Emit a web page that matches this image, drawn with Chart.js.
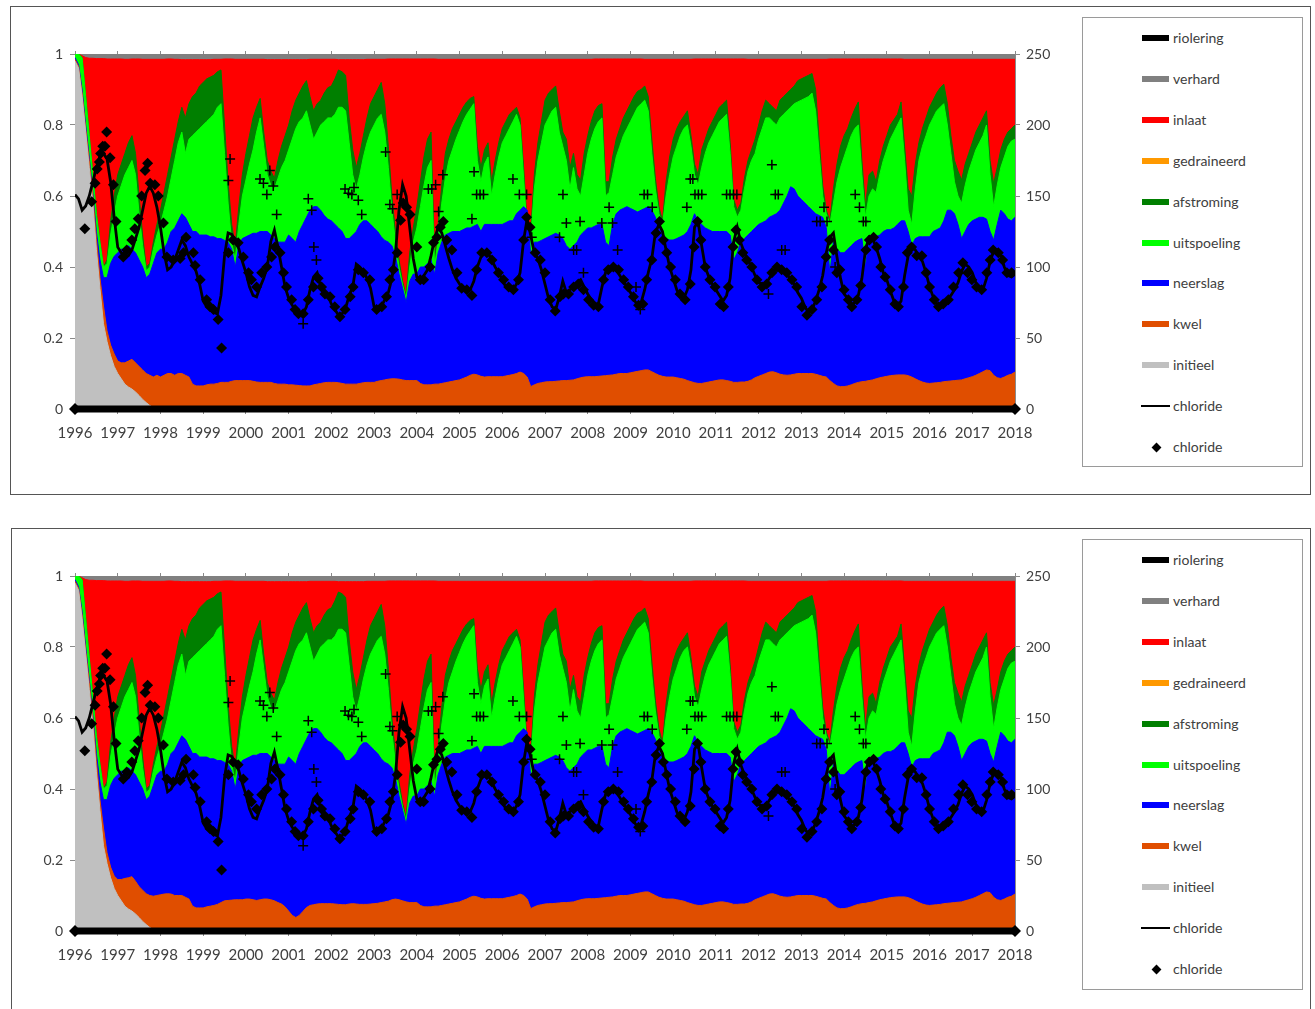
<!DOCTYPE html>
<html>
<head>
<meta charset="utf-8">
<script src="https://cdn.jsdelivr.net/npm/chart.js@4.4.1/dist/chart.umd.min.js"></script>
<style>
  html, body { margin:0; padding:0; background:#fff; }
  body { width:1315px; height:1009px; overflow:hidden; position:relative; font-family:Lato, "Open Sans", sans-serif; }
  .panel { position:absolute; border:1px solid #555; box-sizing:border-box; }
  .legend { position:absolute; border:1px solid #9a9a9a; box-sizing:border-box; background:#fff; }
  canvas { position:absolute; }
  .lg-sw { position:absolute; height:6px; width:27px; }
  .lg-tx { position:absolute; font-size:14px; color:#404040; line-height:16px; white-space:nowrap; }
</style>
</head>
<body>
<div class="panel" style="left:10px;top:6px;width:1301px;height:489px;"></div>
<div class="panel" style="left:11px;top:528px;width:1300px;height:520px;"></div>
<div class="legend" style="left:1082px;top:17px;width:221px;height:450px;"></div>
<div class="legend" style="left:1082px;top:539px;width:221px;height:451px;"></div>
<canvas id="c1" width="1060" height="486" style="left:11px;top:7px;"></canvas>
<canvas id="c2" width="1060" height="486" style="left:11px;top:529px;"></canvas>
<script>
// ---------- DATA (fractions; monthly, 1996.0 .. 2018.0) ----------
const topInitieel = [
0.98,0.96,0.88,0.78,0.68,0.58,0.45,0.34,0.24,0.19,0.15,0.12,
0.10,0.085,0.07,0.062,0.056,0.048,0.038,0.027,0.018,0.01,0.004,0,
0,0,0,0,0,0,0,0,0,0,0,0,
0,0,0,0,0,0,0,0,0,0,0,0,
0,0,0,0,0,0,0,0,0,0,0,0,
0,0,0,0,0,0,0,0,0,0,0,0,
0,0,0,0,0,0,0,0,0,0,0,0,
0,0,0,0,0,0,0,0,0,0,0,0,
0,0,0,0,0,0,0,0,0,0,0,0,
0,0,0,0,0,0,0,0,0,0,0,0,
0,0,0,0,0,0,0,0,0,0,0,0,
0,0,0,0,0,0,0,0,0,0,0,0,
0,0,0,0,0,0,0,0,0,0,0,0,
0,0,0,0,0,0,0,0,0,0,0,0,
0,0,0,0,0,0,0,0,0,0,0,0,
0,0,0,0,0,0,0,0,0,0,0,0,
0,0,0,0,0,0,0,0,0,0,0,0,
0,0,0,0,0,0,0,0,0,0,0,0,
0,0,0,0,0,0,0,0,0,0,0,0,
0,0,0,0,0,0,0,0,0,0,0,0,
0,0,0,0,0,0,0,0,0,0,0,0,
0,0,0,0,0,0,0,0,0,0,0,0,
0];

const topKwel = [
0.985,0.965,0.89,0.79,0.70,0.60,0.48,0.37,0.29,0.22,0.18,0.155,
0.135,0.13,0.13,0.135,0.14,0.13,0.12,0.11,0.10,0.095,0.09,0.095,
0.09,0.095,0.10,0.10,0.095,0.10,0.10,0.095,0.09,0.07,0.065,0.065,
0.065,0.068,0.07,0.07,0.072,0.075,0.075,0.075,0.078,0.08,0.08,0.08,
0.08,0.08,0.078,0.076,0.075,0.075,0.075,0.075,0.072,0.07,0.07,0.07,
0.068,0.068,0.067,0.066,0.065,0.065,0.065,0.068,0.07,0.072,0.074,0.075,
0.075,0.075,0.074,0.072,0.07,0.07,0.07,0.07,0.072,0.074,0.075,0.075,
0.075,0.078,0.08,0.082,0.084,0.085,0.085,0.084,0.082,0.08,0.08,0.08,
0.08,0.072,0.068,0.068,0.068,0.07,0.07,0.072,0.074,0.076,0.078,0.08,
0.082,0.086,0.09,0.095,0.098,0.096,0.092,0.09,0.091,0.091,0.091,0.091,
0.091,0.093,0.095,0.097,0.10,0.104,0.10,0.09,0.063,0.068,0.072,0.074,
0.076,0.077,0.077,0.078,0.079,0.08,0.08,0.081,0.082,0.085,0.088,0.09,
0.091,0.091,0.091,0.092,0.093,0.094,0.095,0.096,0.098,0.10,0.10,0.10,
0.102,0.104,0.106,0.108,0.11,0.11,0.105,0.10,0.095,0.092,0.09,0.09,
0.09,0.088,0.086,0.084,0.08,0.077,0.074,0.072,0.072,0.074,0.076,0.078,
0.08,0.082,0.082,0.08,0.078,0.075,0.075,0.076,0.076,0.078,0.082,0.088,
0.092,0.096,0.10,0.104,0.105,0.102,0.098,0.096,0.095,0.096,0.098,0.10,
0.10,0.10,0.10,0.10,0.098,0.095,0.092,0.09,0.08,0.072,0.065,0.063,
0.063,0.065,0.068,0.072,0.075,0.077,0.078,0.08,0.082,0.085,0.088,0.09,
0.092,0.094,0.095,0.096,0.096,0.096,0.094,0.09,0.085,0.08,0.076,0.073,
0.072,0.073,0.074,0.075,0.077,0.078,0.079,0.08,0.081,0.082,0.085,0.088,
0.091,0.095,0.10,0.105,0.11,0.108,0.095,0.088,0.086,0.09,0.095,0.098,
0.104];

// lower panel: kwel dips around 2001
const topKwel2 = [
0.985,0.965,0.89,0.79,0.70,0.60,0.48,0.37,0.29,0.22,0.18,0.155,
0.145,0.145,0.148,0.15,0.153,0.14,0.125,0.115,0.105,0.10,0.098,0.10,
0.102,0.104,0.105,0.104,0.10,0.10,0.10,0.095,0.09,0.07,0.065,0.065,
0.065,0.068,0.07,0.072,0.075,0.08,0.085,0.086,0.087,0.088,0.088,0.088,
0.09,0.09,0.088,0.086,0.088,0.09,0.09,0.088,0.085,0.08,0.076,0.068,
0.056,0.044,0.038,0.044,0.055,0.066,0.072,0.074,0.076,0.077,0.077,0.077,
0.077,0.076,0.075,0.074,0.074,0.076,0.077,0.076,0.075,0.075,0.075,0.076,
0.077,0.078,0.08,0.082,0.084,0.088,0.09,0.088,0.085,0.082,0.08,0.08,
0.08,0.072,0.068,0.068,0.068,0.07,0.07,0.072,0.074,0.076,0.078,0.08,
0.082,0.086,0.09,0.095,0.098,0.096,0.092,0.09,0.091,0.091,0.091,0.091,
0.091,0.093,0.095,0.097,0.10,0.104,0.10,0.09,0.063,0.068,0.072,0.074,
0.076,0.077,0.077,0.078,0.079,0.08,0.08,0.081,0.082,0.085,0.088,0.09,
0.091,0.091,0.091,0.092,0.093,0.094,0.095,0.096,0.098,0.10,0.10,0.10,
0.102,0.104,0.106,0.108,0.11,0.11,0.105,0.10,0.095,0.092,0.09,0.09,
0.09,0.088,0.086,0.084,0.08,0.077,0.074,0.072,0.072,0.074,0.076,0.078,
0.08,0.082,0.082,0.08,0.078,0.075,0.075,0.076,0.076,0.078,0.082,0.088,
0.092,0.096,0.10,0.104,0.105,0.102,0.098,0.096,0.095,0.096,0.098,0.10,
0.10,0.10,0.10,0.10,0.098,0.095,0.092,0.09,0.08,0.072,0.065,0.063,
0.063,0.065,0.068,0.072,0.075,0.077,0.078,0.08,0.082,0.085,0.088,0.09,
0.092,0.094,0.095,0.096,0.096,0.096,0.094,0.09,0.085,0.08,0.076,0.073,
0.072,0.073,0.074,0.075,0.077,0.078,0.079,0.08,0.081,0.082,0.085,0.088,
0.091,0.095,0.10,0.105,0.11,0.108,0.095,0.088,0.086,0.09,0.095,0.098,
0.104];

const topNeerslag = [
0.99,0.97,0.90,0.80,0.71,0.61,0.50,0.42,0.37,0.37,0.41,0.43,
0.44,0.45,0.45,0.46,0.45,0.44,0.42,0.40,0.37,0.38,0.41,0.44,
0.45,0.45,0.47,0.50,0.51,0.53,0.55,0.54,0.52,0.50,0.50,0.49,
0.49,0.49,0.485,0.485,0.48,0.48,0.475,0.47,0.45,0.40,0.46,0.48,
0.485,0.49,0.495,0.495,0.50,0.50,0.50,0.49,0.48,0.47,0.47,0.47,
0.49,0.48,0.47,0.50,0.52,0.54,0.56,0.57,0.57,0.56,0.545,0.535,
0.53,0.52,0.51,0.50,0.48,0.48,0.49,0.50,0.52,0.53,0.53,0.52,
0.51,0.50,0.485,0.475,0.47,0.46,0.43,0.38,0.34,0.30,0.36,0.38,
0.38,0.40,0.40,0.41,0.42,0.38,0.44,0.47,0.49,0.495,0.50,0.50,
0.50,0.505,0.51,0.51,0.515,0.52,0.50,0.52,0.52,0.52,0.52,0.52,
0.52,0.525,0.53,0.53,0.55,0.56,0.57,0.56,0.43,0.47,0.47,0.475,
0.48,0.485,0.49,0.495,0.49,0.48,0.46,0.45,0.46,0.47,0.49,0.50,
0.51,0.51,0.515,0.52,0.52,0.47,0.46,0.52,0.55,0.56,0.565,0.57,
0.565,0.56,0.555,0.56,0.565,0.57,0.56,0.54,0.51,0.49,0.48,0.476,
0.476,0.48,0.485,0.49,0.50,0.52,0.55,0.53,0.52,0.51,0.505,0.50,
0.50,0.50,0.50,0.50,0.49,0.42,0.44,0.47,0.48,0.49,0.50,0.51,
0.52,0.525,0.53,0.54,0.545,0.55,0.56,0.58,0.60,0.626,0.62,0.60,
0.59,0.58,0.57,0.56,0.55,0.545,0.54,0.51,0.38,0.47,0.45,0.44,
0.44,0.45,0.46,0.47,0.476,0.48,0.40,0.48,0.485,0.485,0.49,0.50,
0.505,0.505,0.51,0.52,0.53,0.53,0.50,0.46,0.48,0.485,0.485,0.485,
0.485,0.50,0.505,0.51,0.53,0.56,0.56,0.55,0.52,0.48,0.50,0.52,
0.53,0.535,0.54,0.54,0.535,0.50,0.476,0.52,0.56,0.55,0.535,0.53,
0.54];

const topUitspoeling = [
1.0,1.0,0.99,0.88,0.77,0.66,0.55,0.47,0.40,0.41,0.49,0.55,
0.60,0.63,0.66,0.68,0.70,0.66,0.55,0.46,0.39,0.40,0.45,0.49,
0.52,0.56,0.60,0.65,0.70,0.75,0.78,0.72,0.76,0.77,0.78,0.79,
0.80,0.81,0.82,0.83,0.85,0.86,0.72,0.58,0.47,0.42,0.52,0.60,
0.645,0.69,0.73,0.78,0.82,0.74,0.66,0.63,0.62,0.65,0.68,0.70,
0.73,0.76,0.79,0.81,0.82,0.84,0.80,0.76,0.78,0.80,0.81,0.82,
0.82,0.83,0.85,0.85,0.84,0.75,0.66,0.62,0.66,0.71,0.75,0.78,
0.80,0.82,0.83,0.78,0.68,0.56,0.47,0.40,0.35,0.31,0.40,0.47,
0.51,0.57,0.63,0.68,0.70,0.40,0.48,0.58,0.65,0.70,0.73,0.76,
0.785,0.81,0.83,0.845,0.86,0.70,0.64,0.69,0.71,0.60,0.66,0.71,
0.75,0.77,0.79,0.81,0.83,0.80,0.65,0.50,0.48,0.62,0.70,0.75,
0.80,0.82,0.84,0.85,0.78,0.74,0.70,0.62,0.68,0.62,0.60,0.66,
0.72,0.76,0.79,0.81,0.82,0.60,0.61,0.66,0.71,0.74,0.77,0.79,
0.81,0.83,0.85,0.86,0.87,0.84,0.72,0.62,0.55,0.52,0.60,0.66,
0.71,0.74,0.77,0.79,0.80,0.74,0.66,0.63,0.68,0.72,0.75,0.77,
0.79,0.81,0.82,0.83,0.72,0.57,0.54,0.56,0.62,0.67,0.70,0.72,
0.76,0.79,0.82,0.82,0.81,0.80,0.82,0.83,0.84,0.85,0.86,0.865,
0.87,0.875,0.88,0.89,0.84,0.72,0.60,0.55,0.52,0.58,0.64,0.68,
0.71,0.74,0.77,0.79,0.80,0.66,0.54,0.60,0.62,0.61,0.66,0.70,
0.73,0.76,0.78,0.80,0.82,0.70,0.56,0.52,0.62,0.70,0.74,0.77,
0.80,0.82,0.84,0.85,0.86,0.80,0.72,0.64,0.60,0.58,0.63,0.67,
0.70,0.73,0.75,0.77,0.80,0.66,0.57,0.63,0.68,0.71,0.74,0.755,
0.76];

const topAfstroming = [
1.0,1.0,0.99,0.88,0.77,0.66,0.55,0.47,0.40,0.42,0.53,0.60,
0.66,0.69,0.72,0.75,0.77,0.72,0.60,0.49,0.40,0.41,0.47,0.52,
0.56,0.61,0.66,0.71,0.76,0.81,0.85,0.82,0.86,0.88,0.89,0.91,
0.92,0.93,0.935,0.94,0.95,0.955,0.80,0.64,0.52,0.46,0.57,0.66,
0.72,0.77,0.82,0.85,0.875,0.78,0.70,0.67,0.65,0.70,0.74,0.77,
0.80,0.84,0.87,0.89,0.91,0.925,0.88,0.84,0.86,0.87,0.89,0.905,
0.91,0.93,0.955,0.95,0.94,0.82,0.73,0.68,0.72,0.77,0.82,0.86,
0.88,0.90,0.92,0.86,0.74,0.60,0.50,0.42,0.36,0.32,0.44,0.51,
0.57,0.64,0.71,0.76,0.78,0.42,0.52,0.63,0.72,0.76,0.79,0.81,
0.83,0.85,0.865,0.875,0.88,0.74,0.68,0.73,0.75,0.64,0.70,0.75,
0.79,0.81,0.83,0.84,0.85,0.82,0.68,0.52,0.50,0.66,0.75,0.81,
0.87,0.89,0.90,0.91,0.84,0.78,0.76,0.68,0.72,0.66,0.645,0.72,
0.77,0.81,0.84,0.855,0.86,0.64,0.64,0.71,0.76,0.79,0.82,0.84,
0.86,0.88,0.895,0.90,0.91,0.88,0.76,0.65,0.57,0.53,0.64,0.71,
0.76,0.79,0.81,0.825,0.84,0.77,0.69,0.66,0.73,0.76,0.79,0.81,
0.83,0.85,0.86,0.87,0.75,0.59,0.56,0.58,0.65,0.70,0.73,0.76,
0.80,0.84,0.87,0.86,0.85,0.84,0.87,0.88,0.89,0.90,0.91,0.925,
0.93,0.935,0.94,0.945,0.90,0.76,0.63,0.56,0.53,0.62,0.69,0.74,
0.77,0.79,0.82,0.845,0.865,0.70,0.57,0.66,0.67,0.64,0.70,0.74,
0.77,0.80,0.815,0.83,0.865,0.74,0.62,0.60,0.69,0.75,0.79,0.82,
0.85,0.87,0.89,0.905,0.915,0.86,0.77,0.70,0.67,0.645,0.69,0.72,
0.75,0.78,0.80,0.82,0.84,0.70,0.635,0.68,0.73,0.76,0.78,0.79,
0.80];

const topInlaat = [
1.0,1.0,0.995,0.99,0.988,0.988,0.987,0.987,0.987,0.986,0.986,0.986,
0.986,0.986,0.985,0.985,0.986,0.986,0.986,0.985,0.985,0.985,0.985,0.985,
0.985,0.985,0.986,0.986,0.985,0.985,0.984,0.984,0.984,0.984,0.984,0.984,
0.984,0.984,0.984,0.985,0.985,0.985,0.986,0.986,0.986,0.985,0.985,0.985,
0.985,0.985,0.985,0.985,0.985,0.985,0.984,0.984,0.984,0.984,0.984,0.984,
0.984,0.984,0.984,0.984,0.984,0.984,0.985,0.985,0.985,0.985,0.985,0.985,
0.985,0.985,0.984,0.984,0.984,0.984,0.984,0.984,0.984,0.984,0.985,0.985,
0.985,0.985,0.985,0.985,0.986,0.986,0.986,0.986,0.986,0.986,0.986,0.986,
0.986,0.986,0.986,0.986,0.986,0.986,0.985,0.985,0.985,0.985,0.985,0.985,
0.985,0.985,0.985,0.985,0.985,0.985,0.985,0.985,0.985,0.985,0.985,0.985,
0.985,0.985,0.985,0.985,0.985,0.985,0.985,0.985,0.985,0.985,0.985,0.985,
0.985,0.985,0.985,0.985,0.985,0.985,0.985,0.985,0.985,0.985,0.985,0.985,
0.985,0.985,0.986,0.986,0.986,0.986,0.986,0.986,0.986,0.986,0.986,0.986,
0.986,0.986,0.986,0.986,0.985,0.985,0.985,0.985,0.985,0.985,0.985,0.985,
0.985,0.985,0.985,0.985,0.985,0.985,0.986,0.986,0.986,0.986,0.986,0.986,
0.986,0.986,0.986,0.986,0.986,0.986,0.986,0.986,0.986,0.985,0.985,0.985,
0.985,0.985,0.985,0.985,0.985,0.985,0.985,0.985,0.985,0.985,0.985,0.985,
0.985,0.985,0.985,0.985,0.985,0.985,0.985,0.985,0.986,0.986,0.986,0.986,
0.986,0.986,0.986,0.986,0.986,0.986,0.986,0.986,0.986,0.986,0.986,0.986,
0.986,0.986,0.986,0.986,0.986,0.985,0.985,0.985,0.985,0.985,0.985,0.985,
0.985,0.985,0.985,0.985,0.985,0.985,0.985,0.985,0.985,0.985,0.985,0.985,
0.985,0.985,0.985,0.985,0.985,0.985,0.985,0.985,0.985,0.985,0.985,0.985,
0.985];

// verhard fills up to the total (fraction 1); riolering and gedraineerd are 0
const totalYears = [1996, 2018];
const totalFraction = [1, 1];

// chloride (mg/l, right axis) — modelled line, monthly
const chlorideLine = [
151,148,140,143,150,160,170,178,180,176,160,135,
114,110,108,108,112,120,128,140,152,157,152,142,
128,110,98,100,105,112,119,115,107,102,97,88,
76,72,70,68,67,80,108,124,123,118,113,104,
96,86,80,79,86,92,100,118,126,114,100,86,
78,73,70,68,67,72,84,93,96,86,83,80,
74,70,66,67,71,80,86,102,100,97,92,85,
72,70,72,77,82,92,110,140,158,150,128,106,
93,91,94,98,108,120,128,124,115,106,98,92,
88,85,84,84,90,100,107,111,110,105,100,96,
91,86,84,84,88,96,119,134,122,110,106,98,
88,78,72,70,79,90,82,84,86,89,91,86,
81,77,74,74,86,96,100,100,98,94,90,86,
82,77,73,75,84,96,106,124,130,125,112,100,
92,84,79,78,84,98,128,132,115,100,93,88,
84,80,76,80,92,118,128,117,110,105,100,94,
89,88,88,92,96,100,100,98,95,91,88,82,
78,72,68,70,76,84,94,110,121,124,107,92,
81,78,73,75,80,92,112,121,120,114,106,96,
91,83,76,72,76,94,108,114,112,107,104,96,
86,79,74,72,73,77,80,84,89,97,102,100,
96,89,85,84,92,104,111,112,108,100,94,93,
95];

// chloride measurements (diamonds)
const diamondYear = [
1996.23,1996.39,1996.47,1996.52,1996.57,1996.60,1996.65,1996.70,1996.74,1996.82,1996.90,1996.96,
1997.13,1997.21,1997.33,1997.40,1997.48,1997.56,1997.64,1997.70,1997.76,1997.87,1997.95,
1998.07,1998.15,1998.30,1998.46,1998.54,1998.60,1998.77,1998.81,1998.93,
1999.08,1999.16,1999.24,1999.35,1999.43,1999.59,1999.70,1999.82,1999.94,
2000.06,2000.13,2000.25,2000.37,2000.49,2000.60,2000.68,2000.80,2000.88,2000.95,
2001.07,2001.15,2001.23,2001.34,2001.46,2001.58,2001.69,2001.77,2001.85,2001.97,
2002.08,2002.20,2002.32,2002.44,2002.51,2002.63,2002.75,2002.90,
2003.06,2003.18,2003.29,2003.37,2003.45,2003.54,2003.62,2003.68,2003.76,2003.84,2004.00,2004.08,
2004.16,2004.31,2004.39,2004.47,2004.55,2004.62,2004.70,2004.82,2004.94,
2005.05,2005.17,2005.29,2005.40,2005.52,2005.64,2005.76,2005.91,
2006.03,2006.15,2006.26,2006.38,2006.50,2006.57,2006.65,2006.77,2006.89,
2007.00,2007.12,2007.24,2007.35,2007.43,2007.55,2007.67,2007.78,2007.90,
2008.02,2008.14,2008.25,2008.37,2008.48,2008.60,2008.72,2008.84,2008.95,
2009.07,2009.19,2009.29,2009.38,2009.50,2009.60,2009.68,2009.77,2009.85,2009.94,
2010.05,2010.16,2010.28,2010.40,2010.49,2010.57,2010.65,2010.75,2010.86,2010.98,
2011.10,2011.18,2011.29,2011.40,2011.47,2011.55,2011.63,2011.72,2011.84,2011.96,
2012.08,2012.19,2012.31,2012.43,2012.54,2012.66,2012.78,2012.89,
2013.01,2013.13,2013.25,2013.36,2013.48,2013.58,2013.66,2013.75,2013.83,2013.90,
2014.00,2014.10,2014.18,2014.30,2014.39,2014.51,2014.59,2014.69,2014.76,2014.86,2014.96,
2015.08,2015.19,2015.27,2015.39,2015.48,2015.58,2015.70,2015.82,2015.92,
2016.00,2016.11,2016.21,2016.32,2016.44,2016.56,2016.68,2016.78,2016.89,2016.99,
2017.10,2017.22,2017.34,2017.42,2017.49,2017.61,2017.71,2017.81,2017.92];
const diamondValue = [
127,146,159,169,174,180,185,185,195,177,158,132,
107,112,119,127,134,150,168,173,159,158,150,
131,107,105,106,110,121,110,101,91,
77,72,70,63,43,110,119,117,107,
96,91,86,96,100,107,114,110,96,86,
77,70,67,67,77,86,92,86,81,79,
72,65,70,79,86,98,96,91,
70,72,79,91,98,110,133,145,142,137,114,91,
91,100,117,121,128,132,119,112,96,
85,84,80,98,110,110,105,96,
91,86,84,91,119,135,128,110,105,
96,77,69,79,81,81,86,88,84,
77,73,72,91,98,100,98,91,86,
79,73,74,91,105,124,132,119,110,100,
91,81,77,88,114,132,119,100,91,86,
74,72,86,114,126,119,110,105,100,91,
86,88,96,100,98,96,91,86,
72,66,70,77,86,107,119,112,96,98,
84,77,72,77,87,112,119,121,114,100,93,
84,74,72,86,110,114,108,108,96,
86,77,72,74,77,86,96,103,96,91,
86,84,96,105,112,110,105,96,96];

// second set of chloride samples (+ markers)
const plusYear = [
1999.59,1999.63,2000.33,2000.41,2000.49,2000.56,2000.64,2000.72,
2001.34,2001.46,2001.54,2001.59,2001.65,
2002.32,2002.40,2002.48,2002.53,2002.63,2002.71,
2003.27,2003.37,2003.43,2003.54,
2004.27,2004.35,2004.44,2004.51,2004.61,
2005.29,2005.34,2005.40,2005.48,2005.56,
2006.25,2006.40,2006.57,2006.69,
2007.34,2007.42,2007.50,2007.67,2007.74,2007.82,2007.90,
2008.33,2008.50,2008.58,2008.70,
2009.13,2009.23,2009.32,2009.40,2009.51,
2010.32,2010.40,2010.46,2010.51,2010.59,2010.67,
2011.25,2011.33,2011.41,2011.49,
2012.23,2012.31,2012.39,2012.46,2012.54,2012.62,
2013.36,2013.44,2013.53,2013.60,2013.79,
2014.26,2014.36,2014.45,2014.51];
const plusValue = [
161,176,162,159,151,168,157,137,
60,148,140,114,105,
155,152,151,156,147,137,
181,144,141,151,
155,155,158,139,165,
134,167,151,151,151,
162,151,151,121,
121,151,131,112,112,132,96,
131,142,131,112,
86,70,151,151,142,
142,162,162,151,151,151,
151,151,151,151,
81,172,151,151,112,112,
132,132,142,132,100,
151,142,132,132];

// unmeasured days plotted at 0 (thick black band on the axis)
const zeroBandYears = [1996, 2018];
const zeroBandValues = [0, 0];

const yearTicks = [1996, 2018];
const legendItems = [
  ['riolering', '#000000', 'bar'],
  ['verhard', '#808080', 'bar'],
  ['inlaat', '#FF0000', 'bar'],
  ['gedraineerd', '#FF9900', 'bar'],
  ['afstroming', '#007F00', 'bar'],
  ['uitspoeling', '#00FF00', 'bar'],
  ['neerslag', '#0000FF', 'bar'],
  ['kwel', '#E04E00', 'bar'],
  ['initieel', '#C0C0C0', 'bar'],
  ['chloride', '#000000', 'line'],
  ['chloride', '#000000', 'diamond']
];

// ---------- CHART ----------
const monthX = Array.from({length: topKwel.length}, (_, i) => 1996 + i / 12);
function pts(xs, ys) { return ys.map((v, i) => ({x: xs[i], y: v})); }
function area(label, xs, arr, color) {
  return { label, type: 'line', data: pts(xs, arr), xAxisID: 'x', yAxisID: 'y',
    fill: 'origin', backgroundColor: color, borderColor: color, borderWidth: 1,
    pointRadius: 0, tension: 0 };
}
const tickFont = { family: 'Lato', size: 15 };
const axisGrey = '#8a8a8a';

function makeChart(id, kwelTop) {
  const datasets = [
    { label: 'nul', type: 'line', data: pts(zeroBandYears, zeroBandValues), xAxisID: 'x', yAxisID: 'y2',
      borderColor: '#000', borderWidth: 7, pointStyle: 'rectRot', pointRadius: 6,
      pointBackgroundColor: '#000', pointBorderColor: '#000', pointBorderWidth: 0, clip: false, fill: false },
    { label: 'chloride meting', type: 'line', showLine: false, data: pts(diamondYear, diamondValue),
      xAxisID: 'x', yAxisID: 'y2', pointStyle: 'rectRot', pointRadius: 5.5,
      pointBackgroundColor: '#000', pointBorderColor: '#000', pointBorderWidth: 0 },
    { label: 'chloride +', type: 'line', showLine: false, data: pts(plusYear, plusValue),
      xAxisID: 'x', yAxisID: 'y2', pointStyle: 'cross', pointRadius: 5,
      pointBorderColor: '#000', pointBorderWidth: 1.5 },
    { label: 'chloride', type: 'line', data: pts(monthX, chlorideLine), xAxisID: 'x', yAxisID: 'y2',
      borderColor: '#000', borderWidth: 2.8, pointRadius: 0, tension: 0, fill: false },
    area('initieel', monthX, topInitieel, '#C0C0C0'),
    area('kwel', monthX, kwelTop, '#E04E00'),
    area('neerslag', monthX, topNeerslag, '#0000FF'),
    area('uitspoeling', monthX, topUitspoeling, '#00FF00'),
    area('afstroming', monthX, topAfstroming, '#007F00'),
    area('inlaat', monthX, topInlaat, '#FF0000'),
    area('verhard', totalYears, totalFraction, '#808080')
  ];
  return new Chart(document.getElementById(id), {
    type: 'line',
    data: { datasets },
    options: {
      responsive: false, animation: false, devicePixelRatio: 1,
      layout: { padding: 0 },
      plugins: { legend: { display: false }, tooltip: { enabled: false } },
      scales: {
        x: { type: 'linear', position: 'bottom', min: yearTicks[0], max: yearTicks[1],
          afterFit: s => { s.height = 84; },
          ticks: { stepSize: 1, autoSkip: false, maxRotation: 0, padding: 10, color: '#404040', font: tickFont,
                   callback: v => String(v) },
          grid: { drawOnChartArea: false, tickLength: 5, color: axisGrey },
          border: { color: axisGrey } },
        xTop: { type: 'linear', position: 'top', min: yearTicks[0], max: yearTicks[1],
          afterFit: s => { s.height = 47; },
          ticks: { stepSize: 1, display: false },
          grid: { drawOnChartArea: false, tickLength: 3, color: axisGrey },
          border: { color: axisGrey } },
        y: { type: 'linear', position: 'left', min: 0, max: 1,
          afterFit: s => { s.width = 64; },
          ticks: { stepSize: 0.2, padding: 7, color: '#404040', font: { family: 'Lato', size: 14 },
                   callback: v => String(Math.round(v * 10) / 10) },
          grid: { drawOnChartArea: false, tickLength: 5, color: axisGrey },
          border: { color: axisGrey } },
        y2: { type: 'linear', position: 'right', min: 0, max: 250,
          afterFit: s => { s.width = 56; },
          ticks: { stepSize: 50, padding: 6, color: '#404040', font: { family: 'Lato', size: 14 } },
          grid: { drawOnChartArea: false, tickLength: 5, color: axisGrey },
          border: { color: axisGrey } }
      }
    }
  });
}
makeChart('c1', topKwel);
makeChart('c2', topKwel2);

// ---------- LEGENDS ----------
function buildLegend(firstRowY) {
  legendItems.forEach((it, i) => {
    const cy = firstRowY + i * 40.9;
    const [name, color, kind] = it;
    const sw = document.createElement('div');
    if (kind === 'bar') {
      sw.className = 'lg-sw';
      sw.style.left = '1142px'; sw.style.top = (cy - 3) + 'px'; sw.style.background = color;
    } else if (kind === 'line') {
      sw.style.cssText = 'position:absolute;left:1141px;width:29px;height:2px;background:#000;top:' + (cy - 1) + 'px';
    } else {
      sw.style.cssText = 'position:absolute;left:1153px;width:7px;height:7px;background:#000;transform:rotate(45deg);top:' + (cy - 3.5) + 'px';
    }
    document.body.appendChild(sw);
    const tx = document.createElement('div');
    tx.className = 'lg-tx';
    tx.textContent = name;
    tx.style.left = '1173px';
    tx.style.top = (cy - 8) + 'px';
    document.body.appendChild(tx);
  });
}
buildLegend(38);
buildLegend(560);
</script>
</body>
</html>
